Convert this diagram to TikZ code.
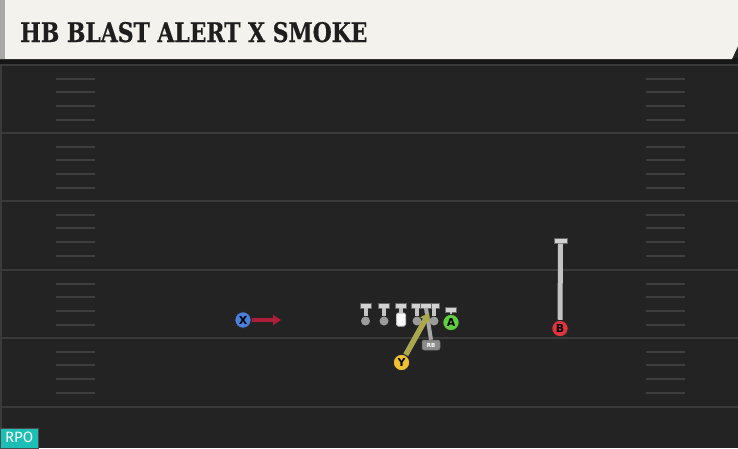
\documentclass[tikz,border=0pt]{standalone}
\usepackage{fontspec}
\setmainfont{DejaVu Sans}
\newfontfamily\titlefont{DejaVu Serif}[FakeBold=0.6]
\newfontfamily\rpofont{Fira Sans}
\usetikzlibrary{arrows.meta}
\definecolor{field}{HTML}{232323}
\definecolor{yardc}{HTML}{3A3A3A}
\definecolor{hashc}{HTML}{3E3E3E}
\definecolor{headerc}{HTML}{F4F2EC}
\definecolor{stripc}{HTML}{A8A8A8}
\definecolor{shadowc}{HTML}{161616}
\definecolor{titlec}{HTML}{1E1E1E}
\definecolor{rpoc}{HTML}{1BBFB5}
\definecolor{xblue}{HTML}{4A80DB}
\definecolor{yyellow}{HTML}{EDC132}
\definecolor{agreen}{HTML}{5FD040}
\definecolor{bred}{HTML}{E0353C}
\definecolor{xroutec}{HTML}{B01C3C}
\definecolor{yroutec}{HTML}{A9A84E}
\definecolor{barc}{HTML}{D2D2D2}
\definecolor{stemc}{HTML}{C4C4C4}
\definecolor{olc}{HTML}{9C9C9C}
\definecolor{rbc}{HTML}{8C8C8C}
\begin{document}
\begin{tikzpicture}[x=1pt,y=-1pt,
  yard/.style={yardc, line width=2.4pt},
  hash/.style={hashc, line width=2pt},
  player/.style={circle, draw=black!85, line width=1pt, minimum size=16.5pt, inner sep=0pt,
    font=\bfseries\fontsize{11}{11}\selectfont, text=black},
  tbar/.style={rectangle, fill=barc, draw=black!60, line width=0.4pt, minimum width=11pt, minimum height=4.5pt, inner sep=0pt},
  lcirc/.style={circle, fill=olc, minimum size=9pt, inner sep=0pt},
  stem/.style={stemc, line width=4pt},
  xroute/.style={xroutec, line width=4pt, -{Triangle[length=8pt,width=10pt]}},
  yroute/.style={yroutec, line width=5.5pt, -{Triangle[length=8pt,width=11pt]}},
]
\useasboundingbox (0,0) rectangle (738,448);
\fill[field] (0,0) rectangle (738,448);
\fill[yardc] (0,60) rectangle (2,428);
% yard lines
\foreach \y in {65,133,201,270,338,407} {
  \draw[yard] (0,\y) -- (738,\y);
}
% hash marks
\foreach \y in {65,133,201,270,338} {
  \foreach \k in {1,2,3,4} {
    \draw[hash] (56,{\y+13.7*\k}) -- (95,{\y+13.7*\k});
    \draw[hash] (646,{\y+13.7*\k}) -- (685,{\y+13.7*\k});
  }
}
% header
\fill[shadowc] (0,58) rectangle (738,64);
\fill[headerc] (0,0) -- (738,0) -- (738,46) -- (732,59) -- (0,59) -- cycle;
\fill[stripc] (0,0) rectangle (5,59);
\node[anchor=base west, inner sep=0pt, text=titlec,
  font=\titlefont\bfseries\fontsize{27}{27}\selectfont] (title) at (20,42) {\scalebox{0.81}[1]{HB BLAST ALERT X SMOKE}};
% RPO tag
\node[anchor=south west, fill=rpoc, draw=black!70, line width=0.5pt, minimum width=38pt, minimum height=20pt,
  inner sep=0pt, text=white, font=\rpofont\fontsize{15}{15}\selectfont] (rpo) at (0,448) {RPO};
% offensive line
\foreach \n/\x in {lt/365.5,lg/384,rg/417,rt/434} {
  \node[tbar] (\n bar) at (\x,305.5) {};
  \node[lcirc] (\n) at (\x,321) {};
  \draw[stem] (\n.north) -- (\n bar.south);
}
\node[tbar] (cbar) at (401,305.5) {};
\node[rectangle, rounded corners=1.5pt, fill=white, draw=stemc, line width=1pt, minimum width=9pt, minimum height=13pt, inner sep=0pt] (c) at (401,319.5) {};
\draw[stem] (c.north) -- (cbar.south);
% running back
\node[tbar] (rbbar) at (426,305.5) {};
\node[rectangle, rounded corners=2pt, fill=rbc, draw=black!60, line width=0.5pt, minimum width=18pt, minimum height=10pt,
  inner sep=0pt, text=white, font=\bfseries\fontsize{5.5}{5.5}\selectfont] (rb) at (431,345) {RB};
\draw[stemc!85!black, line width=4pt] (rb.north) -- (rbbar.south);
% X receiver
\node[player, fill=xblue] (X) at (243,320) {X};
\coordinate (xend) at (281,320);
\draw[xroute] (X.east) -- (xend);
% Y receiver
\node[player, fill=yyellow] (Y) at (401.5,362.5) {Y};
\coordinate (yend) at (429,313);
\draw[yroute] (Y) -- (yend);
% A receiver
\node[tbar] (abar) at (451,309.5) {};
\node[player, fill=agreen] (A) at (451,322.5) {A};
\draw[stem, line width=2pt] (A.north) -- (abar.south);
% B receiver
\node[tbar, minimum width=13pt, minimum height=5pt] (bbar) at (560.5,241) {};
\node[player, fill=bred] (B) at (560,328.5) {B};
\draw[stem, line width=5pt] (B.north) -- (bbar.south);
\end{tikzpicture}
\end{document}
